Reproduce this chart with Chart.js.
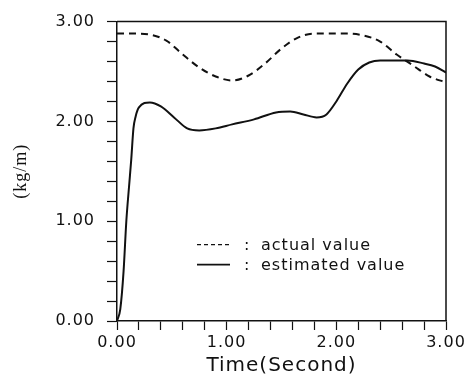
<!DOCTYPE html>
<html>
<head>
<meta charset="utf-8">
<script src="https://cdn.jsdelivr.net/npm/chart.js@4/dist/chart.umd.min.js"></script>
<style>
  html, body { margin: 0; padding: 0; background: #fff; }
  #wrap { width: 472px; height: 381px; }
</style>
</head>
<body>
<div id="wrap"><canvas id="massChart"></canvas></div>
<script>
// Werte
const timeActual = [0, 0.15, 0.3, 0.45, 0.6, 0.75, 0.9, 1.05, 1.2, 1.35, 1.5, 1.65, 1.8, 1.95, 2.1, 2.25, 2.4, 2.55, 2.7, 2.85, 3.0];
const actualValue = [2.88, 2.88, 2.87, 2.81, 2.67, 2.54, 2.45, 2.41, 2.46, 2.58, 2.73, 2.84, 2.88, 2.88, 2.88, 2.86, 2.80, 2.67, 2.56, 2.45, 2.39];

const timeEstimated = [0, 0.03, 0.06, 0.085, 0.11, 0.13, 0.15, 0.17, 0.2, 0.3, 0.4, 0.52, 0.64, 0.75, 0.9, 1.05, 1.25, 1.45, 1.58, 1.7, 1.82, 1.91, 2.0, 2.1, 2.2, 2.3, 2.4, 2.5, 2.65, 2.8, 2.9, 3.0];
const estimatedValue = [0, 0.12, 0.5, 1.0, 1.35, 1.62, 1.93, 2.05, 2.14, 2.19, 2.15, 2.04, 1.93, 1.91, 1.93, 1.97, 2.02, 2.09, 2.10, 2.07, 2.04, 2.07, 2.2, 2.38, 2.52, 2.59, 2.61, 2.61, 2.61, 2.58, 2.55, 2.49];

const seriesLabels = ["actual value", "estimated value"];
const tickLabelValues = [0, 1, 2, 3];

const toPoints = (xs, ys) => xs.map((x, i) => ({ x: x, y: ys[i] }));

const INK = '#111';

// Rahmen oben/rechts + Legende wie im Original
const frameAndLegend = {
    id: 'frameAndLegend',
    beforeDraw(chart) {
        chart.ctx.letterSpacing = '1px';
    },
    afterDraw(chart) {
        const ctx = chart.ctx;
        const a = chart.chartArea;
        ctx.save();
        ctx.strokeStyle = INK;
        ctx.lineWidth = 1.5;
        ctx.beginPath();
        ctx.moveTo(a.left, a.top);
        ctx.lineTo(a.right, a.top);
        ctx.lineTo(a.right, a.bottom);
        ctx.stroke();

        // Legende
        const x0 = a.left + 80;
        const rows = [a.top + 228, a.top + 248];
        ctx.font = '16px "DejaVu Sans"';
        ctx.fillStyle = INK;
        ctx.textBaseline = 'alphabetic';
        chart.data.datasets.forEach((ds, i) => {
            const y = rows[i];
            ctx.beginPath();
            ctx.lineWidth = i === 0 ? 1.4 : 1.9;
            ctx.setLineDash(ds.borderDash ? [4, 3] : []);
            ctx.moveTo(x0, y - 5);
            ctx.lineTo(x0 + 33, y - 5);
            ctx.stroke();
            ctx.setLineDash([]);
            ctx.fillText(':', x0 + 47, y);
            ctx.fillText(ds.label, x0 + 64, y);
        });
        ctx.restore();
    },
    afterDatasetsDraw(chart) {
        chart.ctx.letterSpacing = '1px';
    }
};

const isMajor = v => Math.abs(v - Math.round(v)) < 1e-6 && tickLabelValues.includes(Math.round(v));

new Chart(document.getElementById('massChart'), {
    type: 'line',
    data: {
        datasets: [{
            label: seriesLabels[0],
            data: toPoints(timeActual, actualValue),
            borderColor: INK,
            borderWidth: 2,
            borderDash: [7, 5],
            pointRadius: 0,
            cubicInterpolationMode: 'monotone',
            fill: false
        }, {
            label: seriesLabels[1],
            data: toPoints(timeEstimated, estimatedValue),
            borderColor: INK,
            borderWidth: 2,
            pointRadius: 0,
            cubicInterpolationMode: 'monotone',
            fill: false
        }]
    },
    options: {
        responsive: true,
        maintainAspectRatio: false,
        animation: false,
        events: [],
        layout: { padding: { top: 18, right: 26, left: 0, bottom: 0 } },
        plugins: {
            legend: { display: false },
            tooltip: { enabled: false }
        },
        scales: {
            x: {
                type: 'linear',
                min: 0,
                max: 3,
                afterFit: s => { s.height = 60; },
                border: { display: true, color: INK, width: 1.5 },
                grid: { drawOnChartArea: false, color: INK, tickLength: 9, tickWidth: 1.2 },
                ticks: {
                    stepSize: 0.2,
                    autoSkip: false,
                    maxRotation: 0,
                    padding: 3,
                    color: INK,
                    font: { family: 'DejaVu Sans', size: 16 },
                    callback: v => isMajor(v) ? Math.round(v).toFixed(2) : ''
                },
                title: {
                    display: true,
                    text: 'Time(Second)',
                    color: INK,
                    font: { family: 'DejaVu Sans', size: 20 },
                    padding: { top: 0, bottom: 3 }
                }
            },
            y: {
                min: 0,
                max: 3,
                afterFit: s => { s.width = 117; },
                border: { display: true, color: INK, width: 1.5 },
                grid: { drawOnChartArea: false, color: INK, tickLength: 10, tickWidth: 1.2 },
                ticks: {
                    stepSize: 0.2,
                    autoSkip: false,
                    padding: 12,
                    color: INK,
                    font: { family: 'DejaVu Sans', size: 16 },
                    callback: v => isMajor(v) ? Math.round(v).toFixed(2) : ''
                },
                title: {
                    display: true,
                    text: '(kg/m)',
                    color: INK,
                    font: { family: 'Liberation Serif', size: 18 },
                    padding: { top: 10, bottom: 0 }
                }
            }
        }
    },
    plugins: [frameAndLegend]
});
</script>
</body>
</html>
